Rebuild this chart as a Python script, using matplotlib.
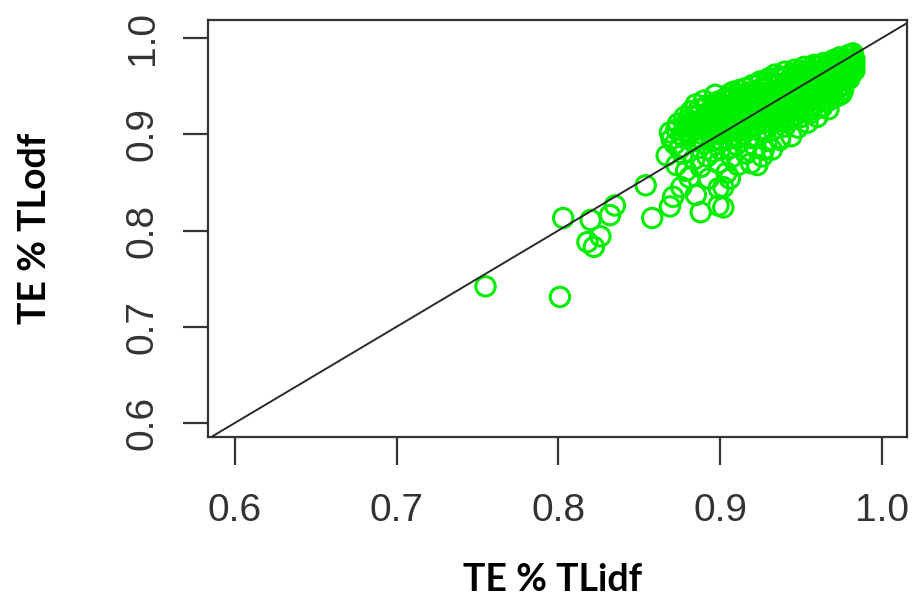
#!/usr/bin/env python3
"""Scatter of TE % TLidf vs TE % TLodf with identity line (R base-plot look)."""

import matplotlib as mpl

mpl.use("Agg")

import matplotlib.pyplot as plt

# isolated points outside the dense band
outlier_x = [0.755, 0.801, 0.803, 0.820, 0.818, 0.822, 0.826, 0.832, 0.835, 0.854,
             0.858, 0.869, 0.871, 0.876, 0.881, 0.885, 0.888, 0.899, 0.899, 0.906,
             0.902, 0.902, 0.923, 0.927, 0.937]
outlier_y = [0.742, 0.731, 0.813, 0.811, 0.788, 0.783, 0.794, 0.816, 0.826, 0.847,
             0.813, 0.825, 0.835, 0.845, 0.855, 0.837, 0.819, 0.826, 0.844, 0.854,
             0.845, 0.824, 0.868, 0.884, 0.894]

# dense band along the diagonal, read column by column
band_x = [
    0.867, 0.869, 0.872, 0.874, 0.873, 0.876, 0.877, 0.878, 0.879,
    0.881, 0.882, 0.883, 0.884, 0.885, 0.886, 0.887, 0.888, 0.889, 0.890, 0.891, 0.892, 0.893, 0.894,
    0.895, 0.896, 0.897, 0.898, 0.899, 0.900, 0.901, 0.902, 0.903, 0.904, 0.905, 0.905, 0.906, 0.907,
    0.908, 0.909, 0.910, 0.910, 0.911, 0.912, 0.913, 0.914, 0.915, 0.915, 0.916, 0.917, 0.918, 0.918,
    0.919, 0.920, 0.920, 0.921, 0.922, 0.923, 0.924, 0.925, 0.925, 0.926, 0.927, 0.928, 0.928, 0.929,
    0.930, 0.930, 0.931,
    0.932, 0.933, 0.934, 0.934, 0.935, 0.936, 0.937, 0.937, 0.938, 0.939, 0.940, 0.940, 0.941, 0.942,
    0.943, 0.944, 0.944, 0.945, 0.946, 0.946, 0.947, 0.948, 0.949, 0.950, 0.950, 0.951, 0.952, 0.952,
    0.953,
    0.954, 0.955, 0.956, 0.956, 0.957, 0.958, 0.959, 0.960, 0.960, 0.961, 0.962, 0.963, 0.963, 0.964,
    0.965, 0.966, 0.967, 0.967, 0.968, 0.969, 0.970, 0.970, 0.971, 0.972, 0.973, 0.973, 0.974, 0.975,
    0.976, 0.976, 0.977, 0.978, 0.979, 0.979, 0.980, 0.981, 0.982, 0.982, 0.983, 0.983,
]
band_y = [
    0.878, 0.902, 0.890, 0.911, 0.868, 0.899, 0.880, 0.918, 0.862,
    0.908, 0.924, 0.893, 0.874, 0.931, 0.912, 0.886, 0.866, 0.900, 0.935, 0.921, 0.877, 0.854, 0.908,
    0.893, 0.928, 0.941, 0.915, 0.870, 0.884, 0.902, 0.936, 0.922, 0.860, 0.895, 0.912, 0.942, 0.876,
    0.930, 0.905, 0.918, 0.889, 0.868, 0.946, 0.925, 0.900, 0.935, 0.912, 0.880, 0.943, 0.921, 0.896,
    0.870, 0.951, 0.932, 0.910, 0.886, 0.940, 0.920, 0.955, 0.903, 0.877, 0.930, 0.947, 0.914, 0.893,
    0.958, 0.936, 0.922,
    0.884, 0.905, 0.945, 0.962, 0.929, 0.915, 0.952, 0.896, 0.938, 0.922, 0.965, 0.908, 0.946, 0.930,
    0.956, 0.915, 0.898, 0.939, 0.967, 0.925, 0.950, 0.907, 0.935, 0.960, 0.918, 0.944, 0.970, 0.928,
    0.953,
    0.912, 0.938, 0.963, 0.922, 0.947, 0.972, 0.931, 0.956, 0.918, 0.941, 0.966, 0.928, 0.950, 0.974,
    0.936, 0.959, 0.945, 0.926, 0.970, 0.952, 0.977, 0.938, 0.962, 0.946, 0.972, 0.955, 0.980, 0.942,
    0.963, 0.951, 0.975, 0.958, 0.982, 0.968, 0.962, 0.977, 0.970, 0.984, 0.978, 0.966,
]

# second pass over the band, filling the gaps between the first set
band2_x = [
    0.870, 0.873, 0.875, 0.878, 0.880, 0.882, 0.884, 0.886, 0.887, 0.889, 0.890, 0.892, 0.893, 0.895,
    0.896, 0.897, 0.899, 0.900, 0.901, 0.902, 0.904, 0.905, 0.906, 0.907, 0.908, 0.909, 0.910, 0.911,
    0.912, 0.913, 0.914, 0.915, 0.916, 0.917, 0.918, 0.919, 0.920, 0.921, 0.922, 0.923, 0.924, 0.925,
    0.926, 0.927, 0.928, 0.929, 0.930, 0.931, 0.932, 0.933, 0.934, 0.935, 0.936, 0.937, 0.938, 0.939,
    0.940, 0.941, 0.942, 0.943, 0.944, 0.945, 0.946, 0.947, 0.948, 0.949, 0.950, 0.951, 0.952, 0.953,
    0.954, 0.955, 0.956, 0.957, 0.958, 0.959, 0.960, 0.961, 0.962, 0.963, 0.964, 0.965, 0.966, 0.967,
    0.968, 0.969, 0.970, 0.971, 0.972, 0.973, 0.974, 0.975, 0.976, 0.977, 0.978, 0.979, 0.980, 0.981,
    0.982, 0.977, 0.968, 0.958, 0.948, 0.938, 0.928, 0.918, 0.908, 0.898, 0.888, 0.878,
]
band2_y = [
    0.895, 0.905, 0.885, 0.896, 0.915, 0.902, 0.918, 0.897, 0.926, 0.912, 0.890, 0.930, 0.917, 0.904,
    0.882, 0.922, 0.934, 0.910, 0.893, 0.926, 0.938, 0.918, 0.903, 0.886, 0.944, 0.925, 0.934, 0.912,
    0.897, 0.940, 0.918, 0.928, 0.948, 0.905, 0.938, 0.915, 0.925, 0.945, 0.898, 0.932, 0.952, 0.915,
    0.940, 0.922, 0.905, 0.955, 0.928, 0.945, 0.912, 0.936, 0.952, 0.920, 0.958, 0.940, 0.928, 0.950,
    0.916, 0.960, 0.942, 0.926, 0.952, 0.963, 0.935, 0.920, 0.956, 0.945, 0.966, 0.930, 0.950, 0.940,
    0.962, 0.925, 0.955, 0.935, 0.965, 0.945, 0.970, 0.928, 0.958, 0.940, 0.966, 0.950, 0.972, 0.935,
    0.960, 0.945, 0.968, 0.952, 0.975, 0.940, 0.962, 0.970, 0.946, 0.968, 0.978, 0.958, 0.972, 0.965,
    0.978, 0.956, 0.955, 0.950, 0.940, 0.932, 0.918, 0.908, 0.898, 0.900, 0.905, 0.908,
]

# third pass, mostly the core of the band
band3_x = [
    0.883, 0.886, 0.891, 0.894, 0.896, 0.899, 0.903, 0.904, 0.907, 0.909, 0.911, 0.913, 0.914, 0.916,
    0.919, 0.921, 0.922, 0.924, 0.926, 0.927, 0.929, 0.931, 0.932, 0.934, 0.936, 0.937, 0.939, 0.941,
    0.942, 0.944, 0.946, 0.947, 0.949, 0.951, 0.953, 0.954, 0.956, 0.957, 0.959, 0.961, 0.962, 0.964,
    0.966, 0.967, 0.969, 0.971, 0.972, 0.974, 0.975, 0.977, 0.979, 0.981, 0.980, 0.983, 0.972, 0.963,
    0.955, 0.945, 0.935, 0.925,
]
band3_y = [
    0.910, 0.920, 0.905, 0.925, 0.912, 0.920, 0.930, 0.912, 0.922, 0.940, 0.930, 0.908, 0.935, 0.922,
    0.943, 0.928, 0.915, 0.938, 0.948, 0.912, 0.935, 0.952, 0.925, 0.940, 0.930, 0.960, 0.945, 0.925,
    0.955, 0.935, 0.948, 0.962, 0.928, 0.955, 0.965, 0.945, 0.930, 0.960, 0.952, 0.965, 0.945, 0.955,
    0.942, 0.965, 0.958, 0.970, 0.958, 0.950, 0.975, 0.962, 0.975, 0.982, 0.958, 0.972, 0.965, 0.960,
    0.948, 0.944, 0.935, 0.926,
]

x_ticks = [0.6, 0.7, 0.8, 0.9, 1.0]
y_ticks = [0.6, 0.7, 0.8, 0.9, 1.0]
x_label = "TE % TLidf"
y_label = "TE % TLodf"

GREEN = "#00ee00"
AXIS_GREY = "#333333"
TEXT_GREY = "#333333"

plt.rcParams["font.family"] = ["Liberation Sans", "DejaVu Sans"]

fig = plt.figure(figsize=(9.17, 6.08), dpi=100)
ax = fig.add_axes([208 / 917, 1 - 437 / 608, 699 / 917, 417 / 608])

ax.plot([0.5, 1.1], [0.5, 1.1], color="#2a2a2a", linewidth=1.4, zorder=3)
all_x = outlier_x + band_x + band2_x + band3_x
all_y = outlier_y + band_y + band2_y + band3_y
ax.scatter(all_x, all_y, s=195, facecolors="none", edgecolors=GREEN, linewidths=2.2, zorder=2)

ax.set_xlim(0.5835, 1.0155)
ax.set_ylim(0.5855, 1.0187)
ax.set_xticks(x_ticks, [f"{t:.1f}" for t in x_ticks])
ax.set_yticks(y_ticks, [f"{t:.1f}" for t in y_ticks])
ax.tick_params(axis="x", length=20, width=1.6, color=AXIS_GREY, pad=20,
               labelsize=28, labelcolor=TEXT_GREY)
ax.tick_params(axis="y", length=18, width=1.6, color=AXIS_GREY, pad=16,
               labelsize=28, labelcolor=TEXT_GREY)
for lab in ax.get_yticklabels():
    lab.set_rotation(90)
    lab.set_va("center")
for spine in ax.spines.values():
    spine.set_linewidth(1.6)
    spine.set_color(AXIS_GREY)

fig.text(553 / 917, 1 - 580 / 608, x_label, ha="center", va="center",
         fontsize=27, fontweight="bold", family=["Lato", "DejaVu Sans"], color="black")
fig.text(35 / 917, 1 - 228 / 608, y_label, ha="center", va="center", rotation=90,
         fontsize=27, fontweight="bold", family=["Lato", "DejaVu Sans"], color="black")

fig.savefig("out.png", dpi=100, facecolor="white")
plt.close(fig)
